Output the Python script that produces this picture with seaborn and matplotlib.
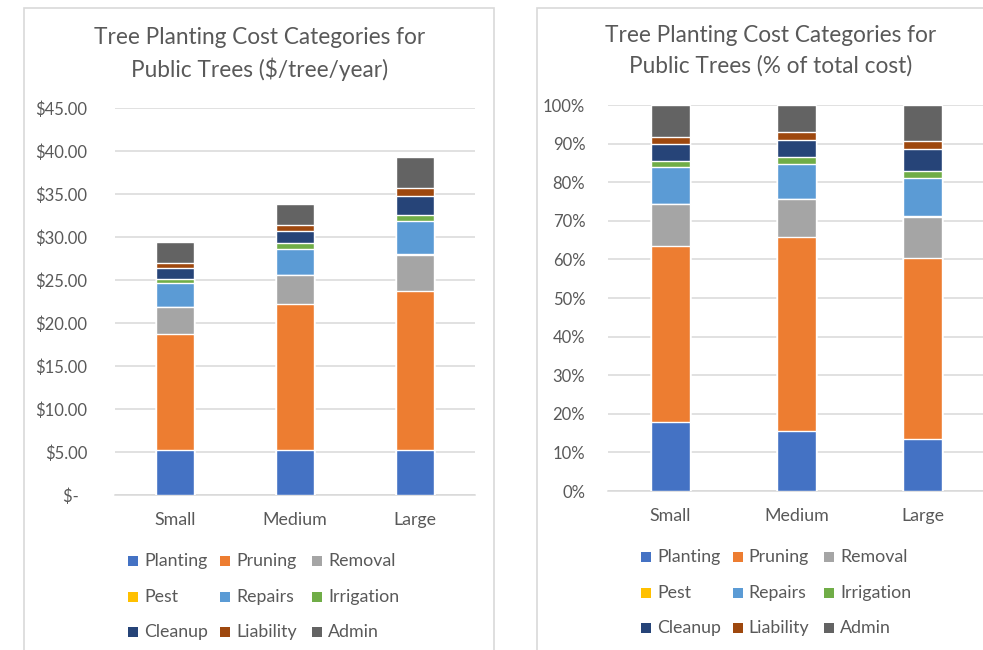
import numpy as np
import pandas as pd
import matplotlib
matplotlib.use("Agg")
import matplotlib.pyplot as plt
from matplotlib.patches import Rectangle
from matplotlib.ticker import FuncFormatter, PercentFormatter
import seaborn as sns

# Annual cost per public tree, by tree size and cost category ($/tree/year)
sizes = ["Small", "Medium", "Large"]
categories = ["Planting", "Pruning", "Removal", "Pest", "Repairs",
              "Irrigation", "Cleanup", "Liability", "Admin"]
planting = [5.23, 5.25, 5.25]
pruning = [13.45, 17.00, 18.45]
removal = [3.15, 3.30, 4.20]
pest = [0.05, 0.05, 0.10]
repairs = [2.75, 3.05, 3.85]
irrigation = [0.50, 0.65, 0.75]
cleanup = [1.25, 1.45, 2.20]
liability = [0.55, 0.68, 0.87]
admin = [2.45, 2.40, 3.65]

colors = ["#4472C4", "#ED7D31", "#A5A5A5", "#FFC000", "#5B9BD5",
          "#70AD47", "#264478", "#9E480E", "#636363"]

TEXT = "#595959"
GRID = "#D9D9D9"

sns.set_theme(style="white")
plt.rcParams["font.family"] = ["Lato", "DejaVu Sans"]

costs = pd.DataFrame(
    [planting, pruning, removal, pest, repairs, irrigation, cleanup, liability, admin],
    index=categories, columns=sizes,
)
shares = costs / costs.sum(axis=0) * 100

fig = plt.figure(figsize=(9.83, 6.5), dpi=100)

# chart-area frames
fig.add_artist(Rectangle((24 / 983, -0.01), 470 / 983, (650 - 8) / 650 + 0.01,
                         transform=fig.transFigure, fill=False, edgecolor=GRID, lw=1.2))
fig.add_artist(Rectangle((537 / 983, -0.01), 460 / 983, (650 - 8) / 650 + 0.01,
                         transform=fig.transFigure, fill=False, edgecolor=GRID, lw=1.2))

ax1 = fig.add_axes([115 / 983, (650 - 495) / 650, 360 / 983, 387 / 650])
ax2 = fig.add_axes([607.5 / 983, (650 - 491) / 650, 378 / 983, 386 / 650])


def stacked(ax, table):
    cum = table.cumsum(axis=0)
    # draw the running totals from the top layer down so each layer shows its own band
    for cat, col in reversed(list(zip(categories, colors))):
        df = pd.DataFrame({"size": sizes, "value": cum.loc[cat].values})
        sns.barplot(data=df, x="size", y="value", color=col, width=0.31,
                    saturation=1, ax=ax, zorder=3)
    ax.set_xlim(-0.5, 2.5)
    ax.set_xlabel("")
    ax.set_ylabel("")
    ax.grid(axis="y", color=GRID, lw=1.1, zorder=0)
    ax.set_axisbelow(True)
    for s in ["top", "left", "right"]:
        ax.spines[s].set_visible(False)
    ax.spines["bottom"].set_color(GRID)
    ax.spines["bottom"].set_linewidth(1.1)
    ax.tick_params(axis="y", length=0, colors=TEXT, labelsize=12, pad=20)
    ax.tick_params(axis="x", length=0, colors=TEXT, labelsize=12.8, pad=12)
    ax.set_facecolor("none")


stacked(ax1, costs)
ax1.set_ylim(0, 45)
ax1.set_yticks(np.arange(0, 46, 5))
ax1.yaxis.set_major_formatter(FuncFormatter(
    lambda v, p: "$-  " if v == 0 else f"${v:,.2f}"))

stacked(ax2, shares)
ax2.set_ylim(0, 100)
ax2.set_yticks(np.arange(0, 101, 10))
ax2.yaxis.set_major_formatter(PercentFormatter(decimals=0))
ax2.tick_params(axis="y", pad=16)

fig.text(260 / 983, 1 - 54 / 650, "Tree Planting Cost Categories for\nPublic Trees ($/tree/year)",
         ha="center", va="center", fontsize=16.3, color=TEXT, linespacing=1.5)
fig.text(771 / 983, 1 - 51 / 650, "Tree Planting Cost Categories for\nPublic Trees (% of total cost)",
         ha="center", va="center", fontsize=16.3, color=TEXT, linespacing=1.5)


def legend(x0, ys, dx):
    for i, (cat, col) in enumerate(zip(categories, colors)):
        r, c = divmod(i, 3)
        x = x0 + c * dx
        y = ys[r]
        fig.add_artist(Rectangle((x / 983, 1 - (y + 5) / 650), 10 / 983, 10 / 650,
                                 transform=fig.transFigure, color=col, lw=0))
        fig.text((x + 16) / 983, 1 - y / 650, cat, ha="left", va="center",
                 fontsize=12.8, color=TEXT)


legend(128, [561, 597, 632], 92)
legend(641, [557, 593, 628], 91.5)

fig.savefig("out.png", dpi=100)
